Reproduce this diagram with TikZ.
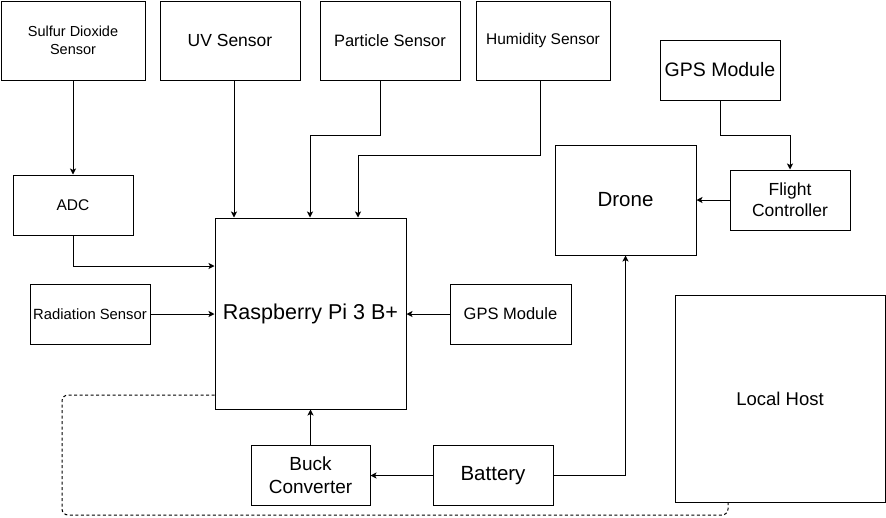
\documentclass[tikz,border=0pt]{standalone}
\usepackage{fontspec}
\setmainfont{Liberation Sans}
\usetikzlibrary{arrows.meta}
\tikzset{
  box/.style={draw=black, line width=1pt, rectangle, inner sep=0pt, align=center, fill=white},
  arr/.style={line width=1pt, -{Stealth[length=6pt,width=6pt,inset=1.5pt]}},
  dsh/.style={line width=1pt, black, dash pattern=on 3pt off 2.5pt, rounded corners=6pt},
  fz/.style 2 args={font={\fontsize{#1}{#2}\selectfont}}
}
\begin{document}
\begin{tikzpicture}[x=1pt,y=-1pt]
\useasboundingbox[fill=white] (0,0) rectangle (886,517);
% boxes (center, width, height)
\node[box, fz={14.5}{18}, minimum width=144pt, minimum height=79pt] (so2) at (73,40.5) {Sulfur Dioxide\\ Sensor};
\node[box, fz={17.5}{21}, minimum width=140pt, minimum height=79pt] (uv) at (230,40.5) {UV Sensor};
\node[box, fz={16.5}{20}, minimum width=140pt, minimum height=79pt] (part) at (390,40.5) {Particle Sensor};
\node[box, fz={15.5}{19}, minimum width=134pt, minimum height=79pt] (hum) at (543,40.5) {Humidity Sensor};
\node[box, fz={19.5}{23}, minimum width=120pt, minimum height=60pt] (gpsa) at (720,70) {GPS Module};
\node[box, fz={20.5}{24}, minimum width=141pt, minimum height=110pt] (drone) at (625.5,200) {Drone};
\node[box, fz={17.5}{20.7}, minimum width=120pt, minimum height=60pt] (fc) at (790,200) {Flight\\ Controller};
\node[box, fz={15.5}{19}, minimum width=120pt, minimum height=60pt] (adc) at (73,205) {ADC};
\node[box, fz={21.5}{26}, minimum width=191pt, minimum height=191pt] (rpi) at (310.5,313.5) {Raspberry Pi 3 B+};
\node[box, fz={14.8}{18}, minimum width=120pt, minimum height=60pt] (rad) at (90,314) {Radiation Sensor};
\node[box, fz={16.5}{20}, minimum width=121pt, minimum height=60pt] (gpsb) at (510.5,314) {GPS Module};
\node[box, fz={18.5}{22}, minimum width=210pt, minimum height=207pt] (local) at (780,398.5) {Local Host};
\node[box, fz={19}{23}, minimum width=119pt, minimum height=60pt] (buck) at (310.5,475) {Buck\\ Converter};
\node[box, fz={20.5}{24}, minimum width=120pt, minimum height=60pt] (bat) at (493,475.5) {Battery};
% connectors
\draw[arr] (so2.south) -- (adc.north);
\draw[arr] ([xshift=4pt]uv.south) -- ([xshift=4pt]uv.south |- rpi.north);
\coordinate (pa) at (310,135);
\coordinate (ha) at (358,155);
\draw[arr] ([xshift=-10pt]part.south) |- (pa) -- (pa |- rpi.north);
\draw[arr] ([xshift=-3pt]hum.south) |- (ha) -- (ha |- rpi.north);
\coordinate (ga) at (720,135);
\draw[arr] (gpsa.south) -- (ga) -| (fc.north);
\draw[arr] (fc.west) -- (drone.east);
\coordinate (aa) at (73,266);
\draw[arr] (adc.south) -- (aa) -- (aa -| rpi.west);
\draw[arr] (rad.east) -- (rad.east -| rpi.west);
\draw[arr] (gpsb.west) -- (gpsb.west -| rpi.east);
\draw[arr] (buck.north) -- (buck.north |- rpi.south);
\draw[arr] (bat.west) -- (bat.west -| buck.east);
\draw[arr] (bat.east) -| (drone.south);
\coordinate (d1) at (215,395);
\coordinate (d2) at (62,395);
\coordinate (d3) at (62,515);
\coordinate (d4) at (728,515);
\draw[dsh] (d1 -| rpi.west) -- (d2) -- (d3) -- (d4) -- (d4 |- local.south);
\end{tikzpicture}
\end{document}
